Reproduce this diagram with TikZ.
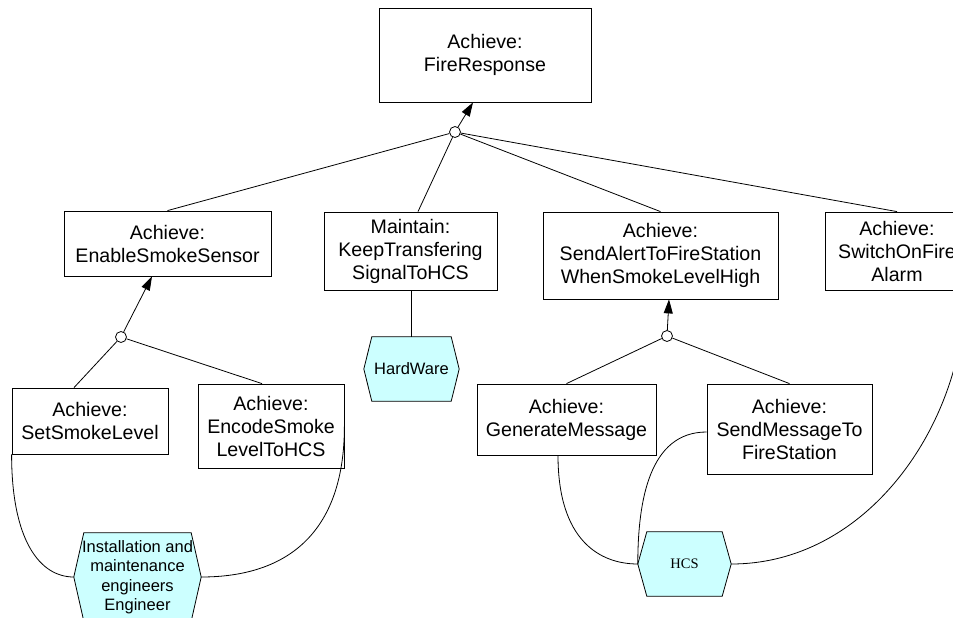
\documentclass[tikz,border=0pt]{standalone}
\usepackage{fontspec}
\setmainfont{Liberation Sans}
\newfontfamily\hcsfont{Liberation Serif}
\usetikzlibrary{arrows.meta,backgrounds,calc}
\definecolor{agentfill}{RGB}{204,255,255}
\begin{document}
\begin{tikzpicture}[x=1pt,y=-1pt,
  goal/.style={draw, line width=0.8pt, rectangle, inner sep=0pt, align=center,
               font=\fontsize{19.6}{23}\selectfont},
  agent/.style={inner sep=0pt, align=center, font=\fontsize{16.5}{19.5}\selectfont},
  refine/.style={draw, circle, fill=white, minimum size=11pt, inner sep=0pt, line width=0.8pt},
  link/.style={line width=0.8pt},
  uparrow/.style={line width=0.8pt, -{Triangle[length=14pt,width=9pt]}},
  hexshape/.style={draw, fill=agentfill, line width=0.8pt}]

\useasboundingbox (0,0) rectangle (953,618);
\clip (0,0) rectangle (953,618);

% goals
\node[goal, minimum width=212pt, minimum height=94pt] (fire) at (485,55) {Achieve:\\FireResponse};
\node[goal, minimum width=207pt, minimum height=65pt] (ess) at (167.5,243.5) {Achieve:\\EnableSmokeSensor};
\node[goal, minimum width=173pt, minimum height=78pt] (keep) at (410.5,251) {Maintain:\\KeepTransfering\\SignalToHCS};
\node[goal, minimum width=235pt, minimum height=87pt] (alert) at (660.5,255.5) {Achieve:\\SendAlertToFireStation\\WhenSmokeLevelHigh};
\node[goal, minimum width=144pt, minimum height=78pt] (alarm) at (897,251) {Achieve:\\SwitchOnFire\\Alarm};
\node[goal, minimum width=156pt, minimum height=66pt] (level) at (90,421) {Achieve:\\SetSmokeLevel};
\node[goal, minimum width=146pt, minimum height=84pt] (encode) at (271,426) {Achieve:\\EncodeSmoke\\LevelToHCS};
\node[goal, minimum width=179pt, minimum height=71pt] (gen) at (566.5,419.5) {Achieve:\\GenerateMessage};
\node[goal, minimum width=165pt, minimum height=90pt] (send) at (789.5,429) {Achieve:\\SendMessageTo\\FireStation};

% refinement points
\node[refine] (or1) at (455,132) {};
\node[refine] (or2) at (121,337) {};
\node[refine] (or3) at (667,336) {};

% agents
\node[agent, minimum width=95pt, minimum height=64pt] (hw) at (411.5,369) {HardWare};
\node[agent, minimum width=127pt, minimum height=88pt] (eng) at (137.5,577) {Installation and\\maintenance\\engineers\\Engineer};
\node[agent, minimum width=93pt, minimum height=64pt, font=\hcsfont\fontsize{14.5}{17}\selectfont] (hcs) at (684.5,564) {HCS};

\begin{scope}[on background layer]
  \foreach \n/\s in {hw/8pt, eng/10pt, hcs/9pt}
    \draw[hexshape] (\n.west) -- ([xshift=\s]\n.north west) -- ([xshift=-\s]\n.north east)
      -- (\n.east) -- ([xshift=-\s]\n.south east) -- ([xshift=\s]\n.south west) -- cycle;
\end{scope}

% refinement links
\draw[uparrow] (or1) -- ([xshift=-12pt]fire.south);
\draw[link] (or1) -- (ess.north);
\draw[link] (or1) -- ([xshift=7.5pt]keep.north);
\draw[link] (or1) -- (alert.north);
\draw[link] (or1) -- (alarm.north);

\draw[uparrow] (or2) -- ([xshift=-15.5pt]ess.south);
\draw[link] (or2) -- ([xshift=-16pt]level.north);
\draw[link] (or2) -- ([xshift=-9pt]encode.north);

\draw[uparrow] (or3) -- ([xshift=8.5pt]alert.south);
\draw[link] (or3) -- (gen.north);
\draw[link] (or3) -- (send.north);

% responsibility links
\draw[link] (hw.north) -- (hw.north |- keep.south);
\draw[link] (level.south west) .. controls +(0,86) and +(-34,0) .. (eng.west);
\draw[link] (encode.east) .. controls +(0,104) and +(89,0) .. (eng.east);
\draw[link] ([xshift=-8.5pt]gen.south) .. controls +(0,85) and +(-38,0) .. (hcs.west);
\draw[link] ([yshift=-3pt]send.west) .. controls +(-57,0) and +(0,-64) .. (hcs.west);
\draw[link] (hcs.east) .. controls +(139,0) and +(0,130) .. ([xshift=68pt]alarm.south);
\end{tikzpicture}
\end{document}
